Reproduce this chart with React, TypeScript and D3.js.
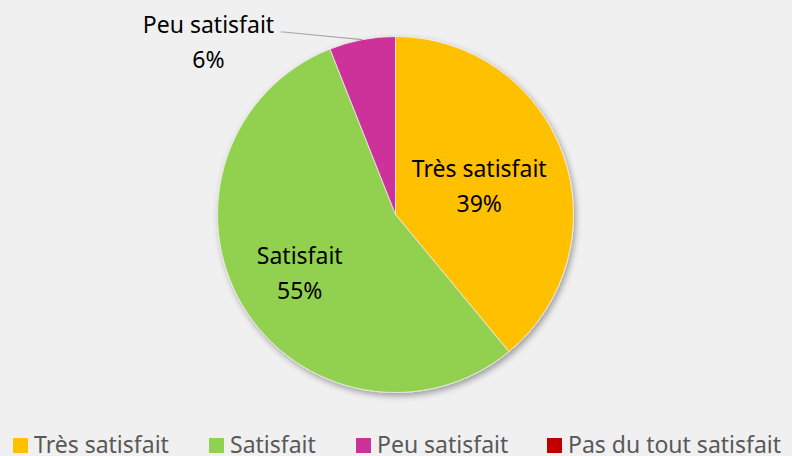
import { useEffect, useRef } from 'react';
import { select, pie, arc, PieArcDatum } from 'd3';

const categories = ['Très satisfait', 'Satisfait', 'Peu satisfait', 'Pas du tout satisfait'];
const values = [39, 55, 6, 0];
const colors = ['#FFC000', '#92D050', '#CC3399', '#C00000'];

const width = 792;
const height = 456;
const cx = 395.5;
const cy = 214.5;
const radius = 178;
const font = "'Noto Sans', 'Open Sans', sans-serif";
// how far out along the slice each inside label sits (share of the radius)
const labelRadius = [0.5, 0.625, 0.5, 0.5];

type Row = { name: string; value: number; color: string };

const App = () => {
  const svgRef = useRef<SVGSVGElement>(null);

  useEffect(() => {
    if (!svgRef.current) return;
    const svg = select(svgRef.current);
    svg.selectAll('*').remove();

    const rows: Row[] = categories.map((c, i) => ({ name: c, value: values[i], color: colors[i] }));
    const total = values.reduce((a, b) => a + b, 0);

    const defs = svg.append('defs');
    const f = defs
      .append('filter')
      .attr('id', 'shadow')
      .attr('x', '-20%')
      .attr('y', '-20%')
      .attr('width', '140%')
      .attr('height', '140%');
    f.append('feDropShadow')
      .attr('dx', 2)
      .attr('dy', 3)
      .attr('stdDeviation', 3)
      .attr('flood-color', '#000')
      .attr('flood-opacity', 0.35);

    svg.append('rect').attr('width', width).attr('height', height).attr('fill', '#F0F0F0');

    const arcs = pie<Row>()
      .sort(null)
      .value((d) => d.value)(rows);
    const arcGen = arc<PieArcDatum<Row>>().innerRadius(0).outerRadius(radius);

    const g = svg.append('g').attr('transform', `translate(${cx},${cy})`);
    const slices = g.append('g').attr('filter', 'url(#shadow)');
    slices
      .selectAll('path')
      .data(arcs.filter((d) => d.value > 0))
      .join('path')
      .attr('d', arcGen)
      .attr('fill', (d) => d.data.color)
      .attr('stroke', '#F0F0F0')
      .attr('stroke-width', 0.8);

    const pct = (v: number) => `${Math.round((v / total) * 100)}%`;

    arcs.forEach((d, i) => {
      if (d.value <= 0) return;
      const big = d.endAngle - d.startAngle > 0.5;
      let lx: number;
      let ly: number;
      if (big) {
        const r = radius * labelRadius[i];
        const c = arc<PieArcDatum<Row>>().innerRadius(r).outerRadius(r).centroid(d);
        lx = c[0];
        ly = c[1];
      } else {
        // small slice: label pushed outside, up and to the left
        lx = 208.5 - cx;
        ly = 40 - cy;
      }
      const t = g
        .append('text')
        .attr('text-anchor', 'middle')
        .attr('font-family', font)
        .attr('font-size', 23)
        .attr('fill', '#000');
      t.append('tspan').attr('x', lx).attr('y', ly - 7).text(d.data.name);
      t.append('tspan').attr('x', lx).attr('y', ly + 28).text(pct(d.value));
      if (!big) {
        const mid = (d.startAngle + d.endAngle) / 2;
        const ex = Math.sin(mid) * radius;
        const ey = -Math.cos(mid) * radius;
        g.append('polyline')
          .attr('points', `${lx + 72},${ly - 8} ${lx + 75},${ly - 8} ${ex},${ey}`)
          .attr('fill', 'none')
          .attr('stroke', '#A6A6A6')
          .attr('stroke-width', 1.2);
      }
    });

    // legend
    const legendX = [13, 209, 356, 547];
    const lg = svg.append('g').attr('transform', 'translate(0,437)');
    rows.forEach((r, i) => {
      const item = lg.append('g').attr('transform', `translate(${legendX[i]},0)`);
      item.append('rect').attr('width', 15).attr('height', 15).attr('y', 1).attr('fill', r.color);
      item
        .append('text')
        .attr('x', 21)
        .attr('y', 16)
        .attr('font-family', font)
        .attr('font-size', 23)
        .attr('fill', '#595959')
        .text(r.name);
    });
  }, []);

  return (
    <div style={{ position: 'absolute', left: 0, top: 0, width, height, overflow: 'hidden' }}>
      <svg ref={svgRef} width={width} height={height} style={{ display: 'block' }} />
    </div>
  );
};

export default App;
